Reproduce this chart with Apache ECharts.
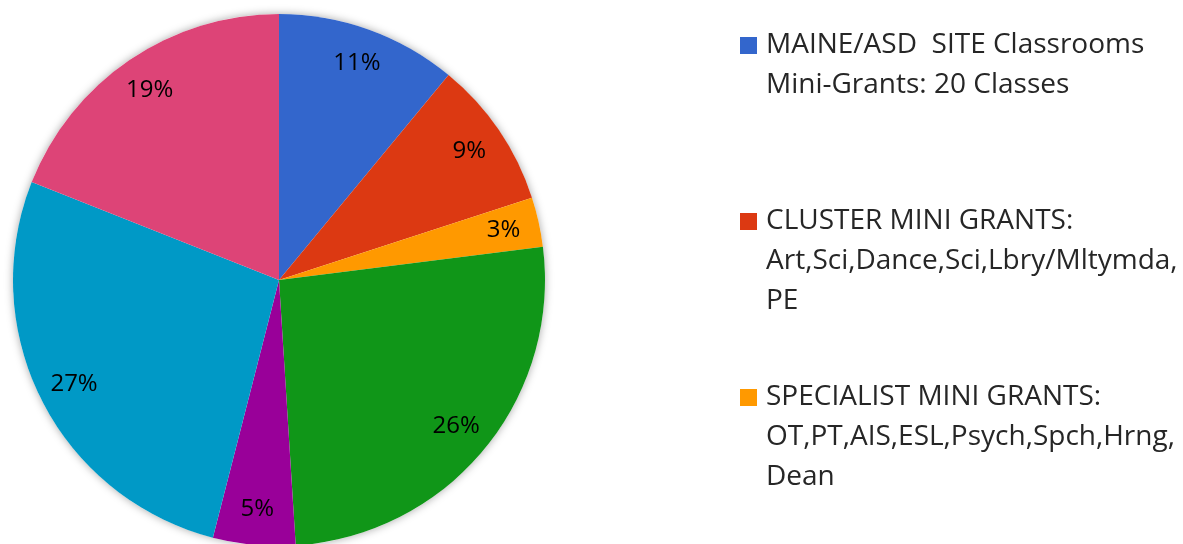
<!DOCTYPE html>
<html>
<head>
<meta charset="utf-8">
<script src="https://cdn.jsdelivr.net/npm/echarts@6/dist/echarts.min.js"></script>
<style>
  html, body { margin: 0; padding: 0; background: #fff; }
  #chart { width: 1183px; height: 544px; }
</style>
</head>
<body>
<div id="chart"></div>
<script>
// slice names (only the first three show up in the legend)
const categories = [
  'MAINE/ASD  SITE Classrooms\nMini-Grants: 20 Classes',
  'CLUSTER MINI GRANTS:\nArt,Sci,Dance,Sci,Lbry/Mltymda,\nPE',
  'SPECIALIST MINI GRANTS:\nOT,PT,AIS,ESL,Psych,Spch,Hrng,\nDean',
  'Category 4',
  'Category 5',
  'Category 6',
  'Category 7'
]
const shares = [11, 9, 3, 26, 5, 27, 19] // percent
const palette = ['#3366cc', '#dc3912', '#ff9900', '#109618', '#990099', '#0099c6', '#dd4477']
const legendIconTops = [37, 213, 389]

const FONT = 'Open Sans'
const LINE = 40
const ICON = 17
const CENTER = [279, 280]
const R = 266

const chart = echarts.init(document.getElementById('chart'))

const data = categories.map((name, i) => ({
  name,
  value: shares[i],
  itemStyle: { color: palette[i] }
}))

// legend text is centred on the icon, so pad blank lines on top
// to bring the first real line level with the icon
const legends = legendIconTops.map((iconTop, i) => {
  const n = categories[i].split('\n').length
  const total = 2 * n - 1
  return {
    data: [categories[i]],
    left: 740,
    top: iconTop + ICON / 2 - (total * LINE) / 2,
    padding: 0,
    icon: 'rect',
    itemWidth: ICON,
    itemHeight: ICON,
    selectedMode: false,
    formatter: (name) => {
      const lines = name.split('\n')
      const blanks = new Array(lines.length - 1).fill('')
      return blanks.concat(lines.map((l) => `{t|${l}}`)).join('\n')
    },
    textStyle: {
      fontFamily: FONT,
      fontSize: 28,
      color: '#262626',
      lineHeight: LINE,
      rich: {
        t: { fontFamily: FONT, fontSize: 28, color: '#262626', lineHeight: LINE, padding: [0, 0, 0, 4] }
      }
    }
  }
})

const option = {
  animation: false,
  legend: legends,
  series: [
    {
      // soft shadow behind the whole disc
      type: 'pie',
      center: CENTER,
      radius: [0, R],
      silent: true,
      label: { show: false },
      labelLine: { show: false },
      itemStyle: { color: '#fff', shadowBlur: 8, shadowColor: 'rgba(0,0,0,0.35)' },
      data: [{ name: '_total', value: shares.reduce((a, b) => a + b, 0) }]
    },
    {
      type: 'pie',
      center: CENTER,
      radius: [0, R],
      startAngle: 90,
      clockwise: true,
      silent: true,
      label: { show: false },
      labelLine: { show: false },
      data
    },
    {
      // transparent ring just to place the percentage labels near the rim
      type: 'pie',
      center: CENTER,
      radius: [188, R],
      startAngle: 90,
      clockwise: true,
      silent: true,
      itemStyle: { color: 'transparent' },
      label: {
        show: true,
        position: 'inside',
        formatter: '{c}%',
        fontFamily: FONT,
        fontSize: 24,
        color: '#000'
      },
      labelLine: { show: false },
      data: categories.map((name, i) => ({ name, value: shares[i] }))
    }
  ]
}

chart.setOption(option)
</script>
</body>
</html>
